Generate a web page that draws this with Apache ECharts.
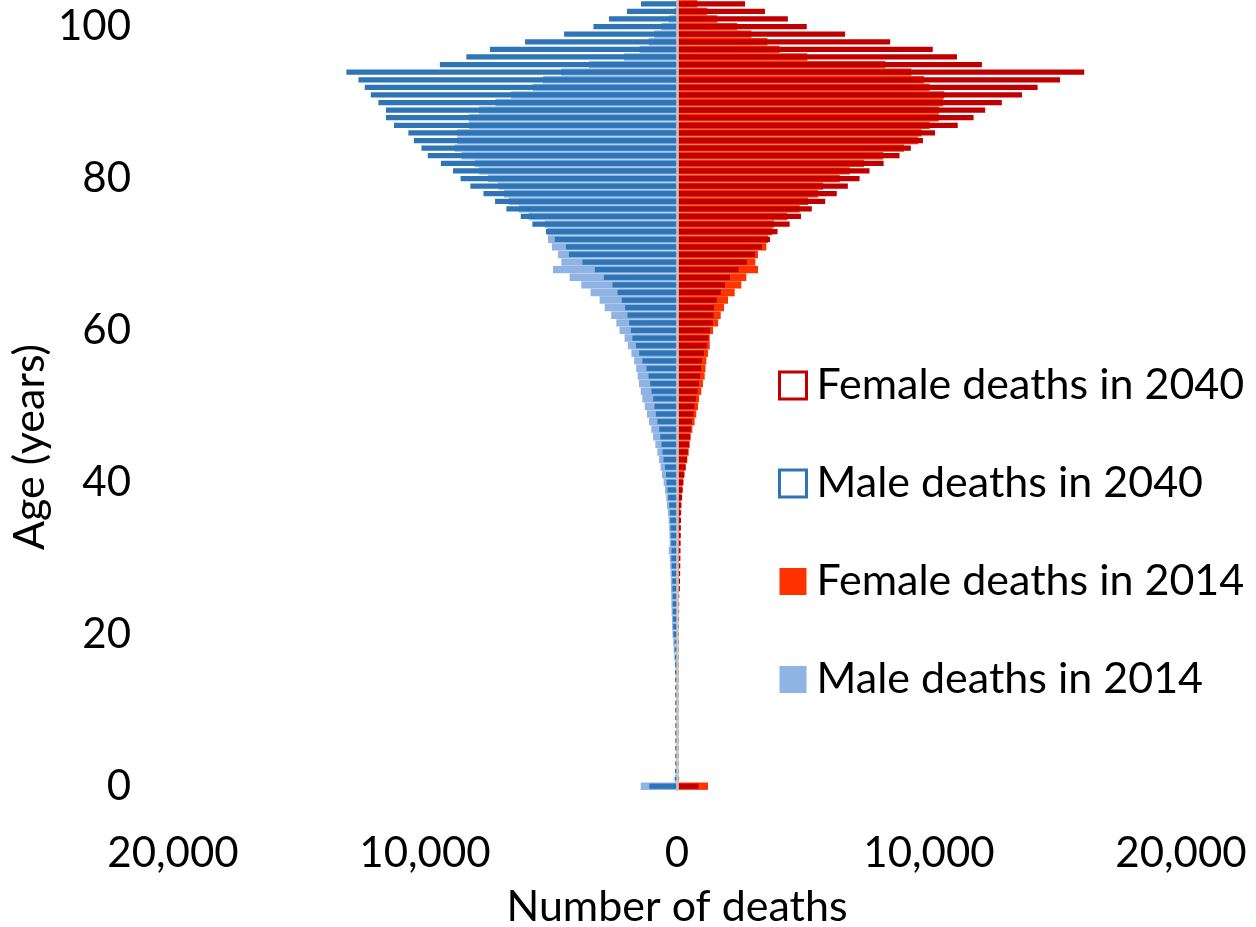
<!DOCTYPE html>
<html>
<head>
<meta charset="utf-8">
<title>Deaths by age, 2014 and 2040</title>
<script src="https://cdn.jsdelivr.net/npm/echarts@6/dist/echarts.min.js"></script>
<style>
  html, body { margin: 0; padding: 0; background: #fff; }
  #chart { width: 1256px; height: 927px; }
</style>
</head>
<body>
<div id="chart"></div>
<script>
// ages 0..103, one bar per single year of age
const ages = [
  0, 1, 2, 3, 4, 5, 6, 7, 8, 9, 10, 11, 12, 13, 14, 15, 16, 17, 18, 19,
  20, 21, 22, 23, 24, 25, 26, 27, 28, 29, 30, 31, 32, 33, 34, 35, 36, 37, 38, 39,
  40, 41, 42, 43, 44, 45, 46, 47, 48, 49, 50, 51, 52, 53, 54, 55, 56, 57, 58, 59,
  60, 61, 62, 63, 64, 65, 66, 67, 68, 69, 70, 71, 72, 73, 74, 75, 76, 77, 78, 79,
  80, 81, 82, 83, 84, 85, 86, 87, 88, 89, 90, 91, 92, 93, 94, 95, 96, 97, 98, 99,
  100, 101, 102, 103
]
const ageTicks = [0, 20, 40, 60, 80, 100]

// number of deaths by age (index = age)
const male2040 = [
  1100, 80, 50, 40, 35, 35, 30, 30, 30, 30, 30, 30, 30, 35, 40, 45, 55, 65, 80, 90,
  140, 150, 155, 165, 170, 175, 185, 190, 200, 210, 225, 220, 235, 245, 255, 270, 282, 310, 350, 377,
  415, 437, 480, 535, 575, 615, 665, 705, 775, 840, 895, 945, 1010, 1065, 1130, 1210, 1370, 1500, 1630, 1770,
  1830, 1900, 1965, 2060, 2190, 2360, 2560, 2900, 3260, 3750, 4290, 4410, 4850, 5200, 5740, 6200, 6770, 7220, 7680, 8200,
  8590, 8890, 9370, 9890, 10140, 10440, 10660, 11230, 11550, 11550, 11850, 12150, 12390, 12640, 13120, 9410, 8360, 7420, 6030, 4480,
  3315, 2700, 1985, 1430
]
const male2014 = [
  1440, 85, 55, 42, 36, 32, 30, 28, 26, 25, 26, 28, 32, 38, 45, 60, 80, 105, 130, 150,
  180, 195, 200, 215, 225, 230, 240, 245, 255, 270, 285, 330, 290, 300, 310, 330, 357, 397, 425, 475,
  530, 595, 650, 715, 780, 860, 950, 1020, 1110, 1190, 1280, 1375, 1440, 1510, 1560, 1620, 1700, 1810, 1950, 2080,
  2280, 2410, 2610, 2870, 3070, 3430, 3800, 4260, 4920, 4590, 4720, 4960, 5120, 5150, 5250, 5890, 6285, 6680, 6870, 7100,
  7500, 7860, 8030, 8560, 8830, 8720, 8720, 8260, 8260, 7860, 7200, 6580, 5720, 5320, 4590, 3500, 2100, 1480, 1125, 910,
  620, 330, 100, 30
]
const female2040 = [
  850, 60, 40, 30, 26, 24, 22, 20, 20, 20, 20, 20, 20, 20, 22, 25, 30, 35, 40, 45,
  50, 55, 60, 65, 70, 75, 115, 120, 125, 130, 135, 140, 145, 150, 155, 160, 165, 178, 203, 230,
  258, 298, 337, 390, 430, 480, 520, 550, 590, 655, 695, 760, 815, 875, 920, 960, 990, 1070, 1185, 1250,
  1310, 1420, 1450, 1470, 1580, 1740, 1905, 2100, 2440, 2770, 3100, 3370, 3690, 3990, 4470, 4920, 5350, 5880, 6340, 6780,
  7245, 7640, 8200, 8830, 9280, 9760, 10240, 11140, 11770, 12230, 12890, 13690, 14310, 15200, 16160, 12100, 11110, 10150, 8460, 6670,
  5150, 4400, 3490, 2700
]
const female2014 = [
  1230, 50, 30, 22, 18, 15, 14, 13, 12, 12, 12, 13, 14, 15, 18, 20, 25, 30, 34, 38,
  40, 40, 45, 45, 50, 55, 60, 65, 70, 75, 80, 85, 90, 95, 100, 108, 119, 146, 172, 198,
  238, 278, 345, 410, 465, 505, 545, 610, 700, 765, 835, 875, 965, 1030, 1100, 1130, 1165, 1230, 1300, 1300,
  1430, 1630, 1735, 1865, 2025, 2290, 2550, 2750, 3215, 3110, 3215, 3545, 3610, 3785, 3850, 4380, 4870, 5200, 5600, 5800,
  6460, 6860, 7420, 8180, 9010, 9570, 9700, 10030, 10390, 10390, 10560, 10600, 10030, 9800, 9300, 8270, 5175, 4075, 3585, 2950,
  2395, 1600, 1200, 806
]

const FONT = 'Lato'
const neg = (arr) => arr.map((v) => -v)

const chart = echarts.init(document.getElementById('chart'))

const option = {
  backgroundColor: '#fff',
  animation: false,
  textStyle: { fontFamily: FONT, color: '#000' },
  // fixed plot box: don't let v6 shrink it to fit the axis names
  grid: { left: 173, right: 75, top: 0, bottom: 137, outerBoundsMode: 'none' },
  legend: {
    orient: 'vertical',
    left: 778,
    top: 364,
    padding: 0,
    icon: 'rect',
    itemWidth: 27,
    itemHeight: 27,
    itemGap: 55,
    selectedMode: false,
    textStyle: { fontFamily: FONT, fontSize: 43, color: '#000', padding: [0, 0, 0, 5] },
    data: [
      { name: 'Female deaths in 2040', itemStyle: { borderWidth: 3 } },
      { name: 'Male deaths in 2040', itemStyle: { borderWidth: 3 } },
      { name: 'Female deaths in 2014' },
      { name: 'Male deaths in 2014' },
    ],
  },
  xAxis: {
    type: 'value',
    min: -20000,
    max: 20000,
    interval: 10000,
    axisLine: { show: false },
    axisTick: { show: false },
    splitLine: { show: false },
    axisLabel: {
      fontFamily: FONT,
      fontSize: 42,
      color: '#000',
      margin: 42,
      formatter: (v) => Math.abs(v).toLocaleString('en-US'),
    },
    name: 'Number of deaths',
    nameLocation: 'middle',
    nameGap: 96,
    nameMoveOverlap: false,
    nameTextStyle: { fontFamily: FONT, fontSize: 43, color: '#000' },
  },
  yAxis: [
    {
      // labels + title, kept at the left edge
      type: 'category',
      data: ages,
      axisLine: { show: false, onZero: false },
      axisTick: { show: false },
      axisLabel: {
        fontFamily: FONT,
        fontSize: 42,
        color: '#000',
        margin: 42,
        interval: (i, v) => ageTicks.indexOf(Number(v)) >= 0,
      },
      name: 'Age (years)',
      nameLocation: 'middle',
      nameGap: 121,
      nameMoveOverlap: false,
      nameTextStyle: { fontFamily: FONT, fontSize: 43, color: '#000', padding: [0, 104, 0, 0] },
    },
    {
      // same ages, used by the 2014 bars; its line is the grey divider at zero
      type: 'category',
      data: ages,
      z: 10,
      axisLine: { show: true, onZero: true, lineStyle: { color: '#c8c8c8', width: 2.5 } },
      axisTick: { show: false },
      axisLabel: { show: false },
    },
  ],
  series: [
    {
      name: 'Male deaths in 2014',
      type: 'bar',
      yAxisIndex: 1,
      data: neg(male2014),
      barGap: '-100%',
      barCategoryGap: '3%',
      itemStyle: { color: '#8fb4e3' },
      silent: true,
    },
    {
      name: 'Female deaths in 2014',
      type: 'bar',
      yAxisIndex: 1,
      data: female2014,
      barGap: '-100%',
      barCategoryGap: '3%',
      itemStyle: { color: '#ff3300' },
      silent: true,
    },
    {
      name: 'Male deaths in 2040',
      type: 'bar',
      yAxisIndex: 0,
      data: neg(male2040),
      barGap: '-100%',
      barCategoryGap: '31%',
      itemStyle: { color: 'rgba(255,255,255,0)', borderColor: '#2e75b6', borderWidth: 2.7 },
      silent: true,
    },
    {
      name: 'Female deaths in 2040',
      type: 'bar',
      yAxisIndex: 0,
      data: female2040,
      barGap: '-100%',
      barCategoryGap: '31%',
      itemStyle: { color: 'rgba(255,255,255,0)', borderColor: '#c00000', borderWidth: 2.7 },
      silent: true,
    },
  ],
}

chart.setOption(option)
window.addEventListener('resize', () => chart.resize())
</script>
</body>
</html>
